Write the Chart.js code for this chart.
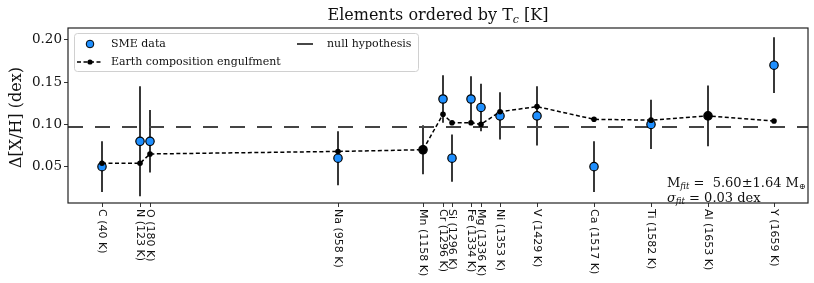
<!DOCTYPE html>
<html>
<head>
<meta charset="utf-8">
<script src="https://cdn.jsdelivr.net/npm/chart.js@4"></script>
<style>
  html, body { margin: 0; padding: 0; background: #fff; }
  #wrap { width: 814px; height: 283px; }
</style>
</head>
<body>
<div id="wrap"><canvas id="myChart" width="814" height="283"></canvas></div>
<script>
// elements, their condensation temperatures and plot positions (axis units 0..740)
var elements = ['C', 'N', 'O', 'Na', 'Mn', 'Cr', 'Si', 'Fe', 'Mg', 'Ni', 'V', 'Ca', 'Ti', 'Al', 'Y'];
var tcK = [40, 123, 180, 958, 1158, 1296, 1296, 1334, 1336, 1353, 1429, 1517, 1582, 1653, 1659];
var xPos = [34, 72, 82, 270, 355, 375, 384, 403, 413, 432, 469, 526, 583, 640, 706];

// SME abundances and errors
var smeVals = [0.050, 0.080, 0.080, 0.060, 0.070, 0.130, 0.060, 0.130, 0.120, 0.110, 0.110, 0.050, 0.100, 0.110, 0.170];
var smeErr = [0.030, 0.065, 0.037, 0.032, 0.029, 0.028, 0.028, 0.027, 0.028, 0.028, 0.035, 0.030, 0.029, 0.036, 0.033];
var smeBlack = ['Mn', 'Al'];

// earth composition engulfment model
var modelVals = [0.054, 0.054, 0.065, 0.068, 0.070, 0.112, 0.102, 0.102, 0.100, 0.115, 0.121, 0.106, 0.105, 0.110, 0.104];

var nullLevel = 0.097;
var yTicks = [0.05, 0.10, 0.15, 0.20];
var xRange = [0, 740];
var yRange = [0.007, 0.214];

var serif = '"DejaVu Serif", serif';
var sans = '"DejaVu Sans", sans-serif';

function pts(vals) {
    var out = [];
    for (var i = 0; i < vals.length; i++) out.push({x: xPos[i], y: vals[i]});
    return out;
}

// draws a list of [text, font, dy] pieces one after the other
function drawRuns(ctx, runs, x, y) {
    var cx = x;
    for (var i = 0; i < runs.length; i++) {
        ctx.font = runs[i][1];
        ctx.fillText(runs[i][0], cx, y + (runs[i][2] || 0));
        cx += ctx.measureText(runs[i][0]).width;
    }
}
function runsWidth(ctx, runs) {
    var w = 0;
    for (var i = 0; i < runs.length; i++) {
        ctx.font = runs[i][1];
        w += ctx.measureText(runs[i][0]).width;
    }
    return w;
}

var extras = {
    id: 'extras',
    beforeDatasetsDraw: function (chart) {
        var ctx = chart.ctx, xs = chart.scales.x, ys = chart.scales.y;
        ctx.save();
        ctx.strokeStyle = '#222';
        ctx.lineWidth = 1.8;
        for (var i = 0; i < smeVals.length; i++) {
            var px = xs.getPixelForValue(xPos[i]);
            ctx.beginPath();
            ctx.moveTo(px, ys.getPixelForValue(smeVals[i] - smeErr[i]));
            ctx.lineTo(px, ys.getPixelForValue(smeVals[i] + smeErr[i]));
            ctx.stroke();
        }
        ctx.restore();
    },
    afterDraw: function (chart) {
        var ctx = chart.ctx, xs = chart.scales.x, a = chart.chartArea;
        ctx.save();
        // frame
        ctx.strokeStyle = '#222';
        ctx.lineWidth = 1.2;
        ctx.strokeRect(a.left, a.top, a.right - a.left, a.bottom - a.top);

        ctx.fillStyle = '#111';
        // x tick labels, reading top to bottom
        ctx.font = '11px ' + sans;
        ctx.textAlign = 'left';
        ctx.textBaseline = 'middle';
        for (var i = 0; i < elements.length; i++) {
            var px = xs.getPixelForValue(xPos[i]);
            ctx.save();
            ctx.translate(px, a.bottom + 6);
            ctx.rotate(Math.PI / 2);
            ctx.fillText(elements[i] + ' (' + tcK[i] + ' K)', 0, 0);
            ctx.restore();
        }

        // title
        ctx.textBaseline = 'alphabetic';
        var title = [['Elements ordered by T', '16px ' + serif], ['c', 'italic 11px ' + serif, 3], [' [K]', '16px ' + serif]];
        var tw = runsWidth(ctx, title);
        drawRuns(ctx, title, (a.left + a.right) / 2 - tw / 2, 20);

        // y axis title
        ctx.save();
        ctx.translate(21, (a.top + a.bottom) / 2 + 2);
        ctx.rotate(-Math.PI / 2);
        ctx.textAlign = 'center';
        ctx.font = '16px ' + serif;
        ctx.fillText('\u0394[X/H] (dex)', 0, 0);
        ctx.restore();

        // fit annotation
        ctx.textAlign = 'left';
        drawRuns(ctx, [['M', '13px ' + serif], ['fit', 'italic 8.5px ' + serif, 2], [' =  5.60\u00b11.64 M', '13px ' + serif], ['\u2295', '8px ' + serif, 2]], 667, 187);
        drawRuns(ctx, [['\u03c3', 'italic 13px ' + serif], ['fit', 'italic 8.5px ' + serif, 2], [' = 0.03 dex', '13px ' + serif]], 667, 202);

        // legend
        ctx.beginPath();
        ctx.roundRect(74.5, 33.5, 344, 38, 3);
        ctx.fillStyle = 'rgba(255,255,255,0.8)';
        ctx.fill();
        ctx.strokeStyle = '#d0d0d0';
        ctx.lineWidth = 1;
        ctx.stroke();

        ctx.beginPath();
        ctx.arc(90, 44, 3.8, 0, Math.PI * 2);
        ctx.fillStyle = '#1e8fff';
        ctx.fill();
        ctx.strokeStyle = '#000';
        ctx.lineWidth = 1;
        ctx.stroke();

        ctx.beginPath();
        ctx.setLineDash([4, 2.5]);
        ctx.moveTo(77, 62);
        ctx.lineTo(103, 62);
        ctx.lineWidth = 1.5;
        ctx.stroke();
        ctx.setLineDash([]);
        ctx.beginPath();
        ctx.arc(90, 62, 2.6, 0, Math.PI * 2);
        ctx.fillStyle = '#000';
        ctx.fill();

        ctx.beginPath();
        ctx.moveTo(297, 44);
        ctx.lineTo(313, 44);
        ctx.strokeStyle = '#333';
        ctx.lineWidth = 1.8;
        ctx.stroke();

        ctx.fillStyle = '#111';
        ctx.font = '11px ' + serif;
        ctx.textBaseline = 'middle';
        ctx.fillText('SME data', 111, 44);
        ctx.fillText('null hypothesis', 327, 44);
        ctx.fillText('Earth composition engulfment', 111, 62);
        ctx.restore();
    }
};

var smeColors = elements.map(function (e) { return smeBlack.indexOf(e) >= 0 ? '#000' : '#1e8fff'; });

var ctx = document.getElementById('myChart').getContext('2d');
var chart = new Chart(ctx, {
    type: 'scatter',
    data: {
        datasets: [{
            label: 'Earth composition engulfment',
            data: pts(modelVals),
            showLine: true,
            borderColor: '#000',
            borderWidth: 1.5,
            borderDash: [4, 2.5],
            pointRadius: 2.8,
            pointBackgroundColor: '#000',
            pointBorderWidth: 0,
            order: 1
        }, {
            label: 'SME data',
            data: pts(smeVals),
            pointRadius: 4.2,
            pointBackgroundColor: smeColors,
            pointBorderColor: '#000',
            pointBorderWidth: 1.2,
            order: 2
        }, {
            label: 'null hypothesis',
            data: [{x: xRange[0], y: nullLevel}, {x: xRange[1], y: nullLevel}],
            showLine: true,
            borderColor: '#444',
            borderWidth: 2,
            borderDash: [15, 12],
            pointRadius: 0,
            order: 3
        }]
    },
    options: {
        responsive: false,
        animation: false,
        layout: { padding: { top: 28, right: 6, left: 0, bottom: 0 } },
        plugins: { legend: { display: false }, tooltip: { enabled: false }, title: { display: false } },
        scales: {
            x: {
                type: 'linear',
                min: xRange[0],
                max: xRange[1],
                afterBuildTicks: function (scale) {
                    scale.ticks = xPos.map(function (v) { return {value: v}; });
                },
                afterFit: function (scale) { scale.height = 80; },
                ticks: { display: false },
                grid: { drawOnChartArea: false, drawTicks: true, tickLength: 4, color: '#333', lineWidth: 1 },
                border: { display: false }
            },
            y: {
                min: yRange[0],
                max: yRange[1],
                afterBuildTicks: function (scale) {
                    scale.ticks = yTicks.map(function (v) { return {value: v}; });
                },
                afterFit: function (scale) { scale.width = 68; },
                ticks: {
                    padding: 2,
                    color: '#111',
                    font: { family: serif, size: 13.5 },
                    callback: function (v) { return v.toFixed(2); }
                },
                grid: { drawOnChartArea: false, drawTicks: true, tickLength: 4, color: '#333', lineWidth: 1 },
                border: { display: false }
            }
        }
    },
    plugins: [extras]
});
</script>
</body>
</html>
